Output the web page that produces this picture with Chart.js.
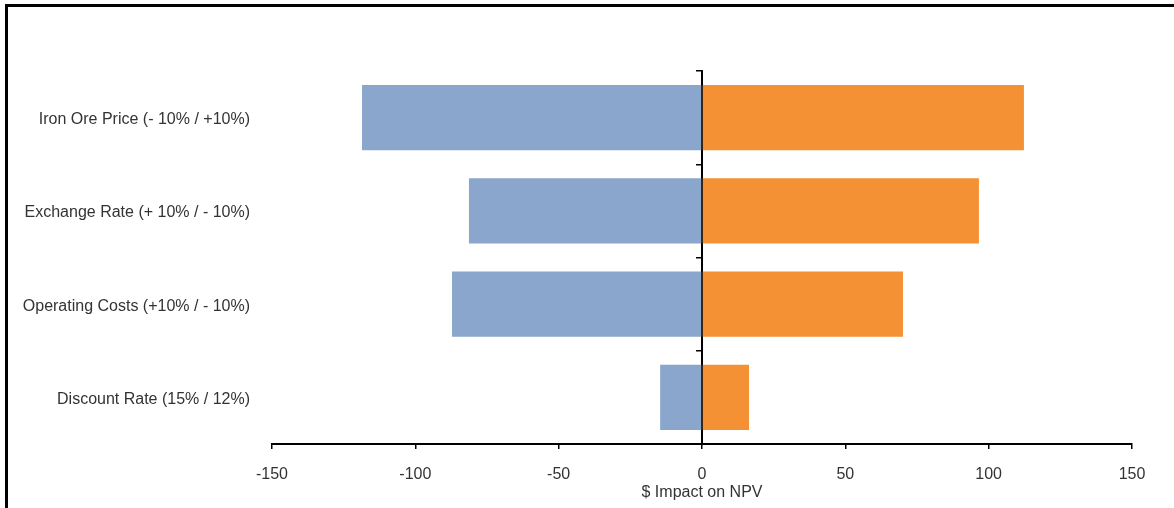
<!DOCTYPE html>
<html>
<head>
    <meta charset="UTF-8">
    <title>NPV Sensitivity</title>
    <script src="https://cdn.jsdelivr.net/npm/chart.js@4.4.1/dist/chart.umd.min.js"></script>
    <style>
        body { margin: 0; background: #fff; }
        .wrap { position: relative; width: 1174px; height: 508px; }
        .frame { position: absolute; left: 5px; top: 4px; right: -10px; bottom: -10px;
                 border-left: 3px solid #000; border-top: 3px solid #000; pointer-events: none; }
    </style>
</head>
<body>
<div class="wrap">
    <canvas id="tornado" width="1174" height="508"></canvas>
    <div class="frame"></div>
</div>
<script>
    // sensitivity cases (top to bottom)
    var categories = [
        'Iron Ore Price (- 10% / +10%)',
        'Exchange Rate (+ 10% / - 10%)',
        'Operating Costs (+10% / - 10%)',
        'Discount Rate (15% / 12%)'
    ];
    var downside = [-118.6, -81.3, -87.2, -14.6];
    var upside = [112.3, 96.6, 70.1, 16.4];
    var xMin = -150, xMax = 150, xStep = 50;

    Chart.defaults.font.family = "'Liberation Sans', Arial, sans-serif";
    Chart.defaults.font.size = 16;
    Chart.defaults.color = '#333';

    var ctx = document.getElementById('tornado').getContext('2d');
    new Chart(ctx, {
        type: 'bar',
        data: {
            labels: categories,
            datasets: [
                { label: 'Downside', data: downside, backgroundColor: '#8AA6CC',
                  barPercentage: 0.7, categoryPercentage: 1 },
                { label: 'Upside', data: upside, backgroundColor: '#F39134',
                  barPercentage: 0.7, categoryPercentage: 1 }
            ]
        },
        options: {
            indexAxis: 'y',
            responsive: false,
            animation: false,
            layout: { padding: { top: 71, right: 42, left: 0, bottom: 0 } },
            plugins: { legend: { display: false }, tooltip: { enabled: false } },
            scales: {
                x: {
                    stacked: true,
                    min: xMin, max: xMax,
                    ticks: { stepSize: xStep, padding: 16 },
                    grid: { drawOnChartArea: false, tickLength: 5, color: '#000', lineWidth: 1.5 },
                    border: { color: '#000', width: 2 },
                    title: { display: true, text: '$ Impact on NPV',
                             padding: { top: 0, bottom: 6 } },
                    afterFit: function (s) { s.height = 64; }
                },
                y: {
                    stacked: true,
                    ticks: { padding: 14, labelOffset: 2 },
                    grid: { display: false },
                    border: { display: false },
                    afterFit: function (s) { s.width = 272; }
                },
                y2: {
                    type: 'category',
                    axis: 'y',
                    labels: categories,
                    position: { x: 0 },
                    offset: true,
                    ticks: { display: false },
                    grid: { offset: true, drawOnChartArea: false, tickLength: 5, color: '#000', lineWidth: 1.5 },
                    border: { color: '#000', width: 2 }
                }
            }
        }
    });
</script>
</body>
</html>
